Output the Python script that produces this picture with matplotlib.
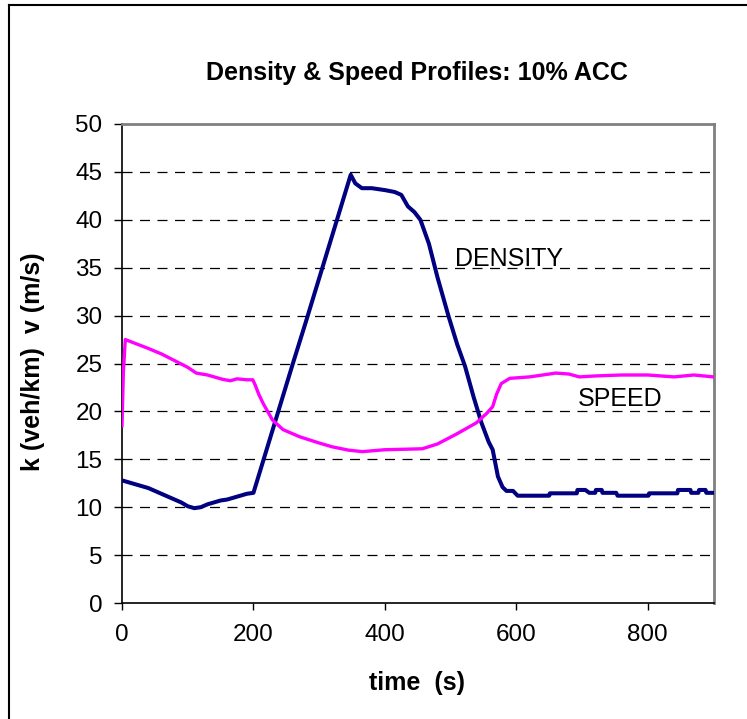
import matplotlib
matplotlib.use("Agg")
import matplotlib.pyplot as plt
from matplotlib.lines import Line2D

plt.rcParams['font.family'] = ['Liberation Sans', 'DejaVu Sans']

# Density (veh/km) vs time (s)
density_t = [0, 10, 20, 30, 40, 50, 60, 70, 80, 90, 100, 110, 120, 130, 140, 150,
             160, 170, 180, 190, 200, 220, 240, 260, 280, 300, 320, 340, 348,
             355, 365, 380, 400, 415, 425, 435, 445, 454, 467, 480, 497, 510,
             522, 535, 547, 558, 564, 572, 579, 585, 595, 602, 650, 651, 692,
             693, 705, 711, 720, 721, 730, 731, 752, 754, 801, 802, 845, 846,
             865, 866, 877, 878, 888, 889, 900]
density_k = [12.8, 12.6, 12.4, 12.2, 12.0, 11.7, 11.4, 11.1, 10.8, 10.5, 10.1, 9.9,
             10.0, 10.3, 10.5, 10.7, 10.8, 11.0, 11.2, 11.4, 11.5, 16.0, 20.5,
             25.0, 29.4, 33.9, 38.4, 42.9, 44.7, 43.8, 43.3, 43.3, 43.1, 42.9,
             42.6, 41.4, 40.8, 40.0, 37.5, 34.0, 29.9, 27.0, 24.7, 21.5, 18.8,
             16.8, 16.0, 13.2, 12.1, 11.7, 11.7, 11.2, 11.2, 11.45, 11.45, 11.8,
             11.8, 11.5, 11.5, 11.8, 11.8, 11.5, 11.5, 11.2, 11.2, 11.45, 11.45,
             11.8, 11.8, 11.5, 11.5, 11.8, 11.8, 11.5, 11.5]

# Speed (m/s) vs time (s)
speed_t = [0, 2, 5, 20, 39, 60, 80, 100, 113, 130, 153, 165, 175, 190, 199, 203,
           208, 215, 229, 245, 270, 300, 320, 345, 366, 400, 430, 457, 480, 508,
           539, 555, 564, 570, 577, 590, 620, 640, 660, 680, 696, 720, 760, 800,
           840, 870, 900]
speed_v = [18.5, 24.0, 27.5, 27.1, 26.6, 26.0, 25.3, 24.6, 24.0, 23.8, 23.35, 23.2,
           23.4, 23.3, 23.3, 22.7, 21.8, 20.8, 19.1, 18.1, 17.36, 16.7, 16.3,
           15.95, 15.8, 16.0, 16.05, 16.1, 16.6, 17.6, 18.8, 19.8, 20.5, 21.8,
           22.9, 23.45, 23.6, 23.8, 24.0, 23.9, 23.6, 23.7, 23.8, 23.8, 23.6,
           23.8, 23.6]

x_ticks = [0, 200, 400, 600, 800]
y_ticks = [0, 5, 10, 15, 20, 25, 30, 35, 40, 45, 50]

W, H = 747, 719
fig = plt.figure(figsize=(W / 100, H / 100), dpi=100)
ax = fig.add_axes([122 / W, 1 - 603 / H, (713.5 - 122) / W, (603 - 124) / H])

ax.plot(density_t, density_k, color='#000080', lw=2.9, zorder=3)
ax.plot(speed_t, speed_v, color='#FF00FF', lw=2.4, zorder=3)

ax.set_xlim(0, 900)
ax.set_ylim(0, 50)
ax.set_xticks(x_ticks)
ax.set_yticks(y_ticks)
ax.tick_params(axis='y', direction='out', length=6, width=1, labelsize=17.5,
               color='black', pad=8)
ax.tick_params(axis='x', direction='out', length=5.25, width=1, labelsize=17.5,
               color='black', pad=10)

for y in y_ticks[1:-1]:
    ax.axhline(y, color='black', lw=0.9, ls=(0, (8, 6)), zorder=1)

ax.spines['left'].set_color('black')
ax.spines['bottom'].set_color('black')
ax.spines['top'].set_color('#808080')
ax.spines['right'].set_color('#808080')
for s in ax.spines.values():
    s.set_linewidth(1.2)
ax.spines['top'].set_linewidth(2)
ax.spines['right'].set_linewidth(2)

fig.text(417 / W, 1 - 683 / H, 'time  (s)', fontsize=18, fontweight='bold',
         ha='center', va='center')
fig.text(33 / W, 1 - 362 / H, 'k (veh/km)  v (m/s)', fontsize=18, fontweight='bold',
         ha='center', va='center', rotation=90)

fig.text(417 / W, 1 - 73 / H, 'Density & Speed Profiles: 10% ACC', fontsize=18,
         fontweight='bold', ha='center', va='center')

ax.text(507, 35.9, 'DENSITY', fontsize=18, ha='left', va='center', zorder=4)
ax.text(694, 21.3, 'SPEED', fontsize=18, ha='left', va='center', zorder=4)

# outer chart border
fig.add_artist(Line2D([9 / W, 9 / W], [0, 1 - 4.5 / H], transform=fig.transFigure,
                      color='black', lw=1.5))
fig.add_artist(Line2D([9 / W, 1], [1 - 4.5 / H, 1 - 4.5 / H], transform=fig.transFigure,
                      color='black', lw=1.5))

fig.savefig('out.png', dpi=100, facecolor='white')
